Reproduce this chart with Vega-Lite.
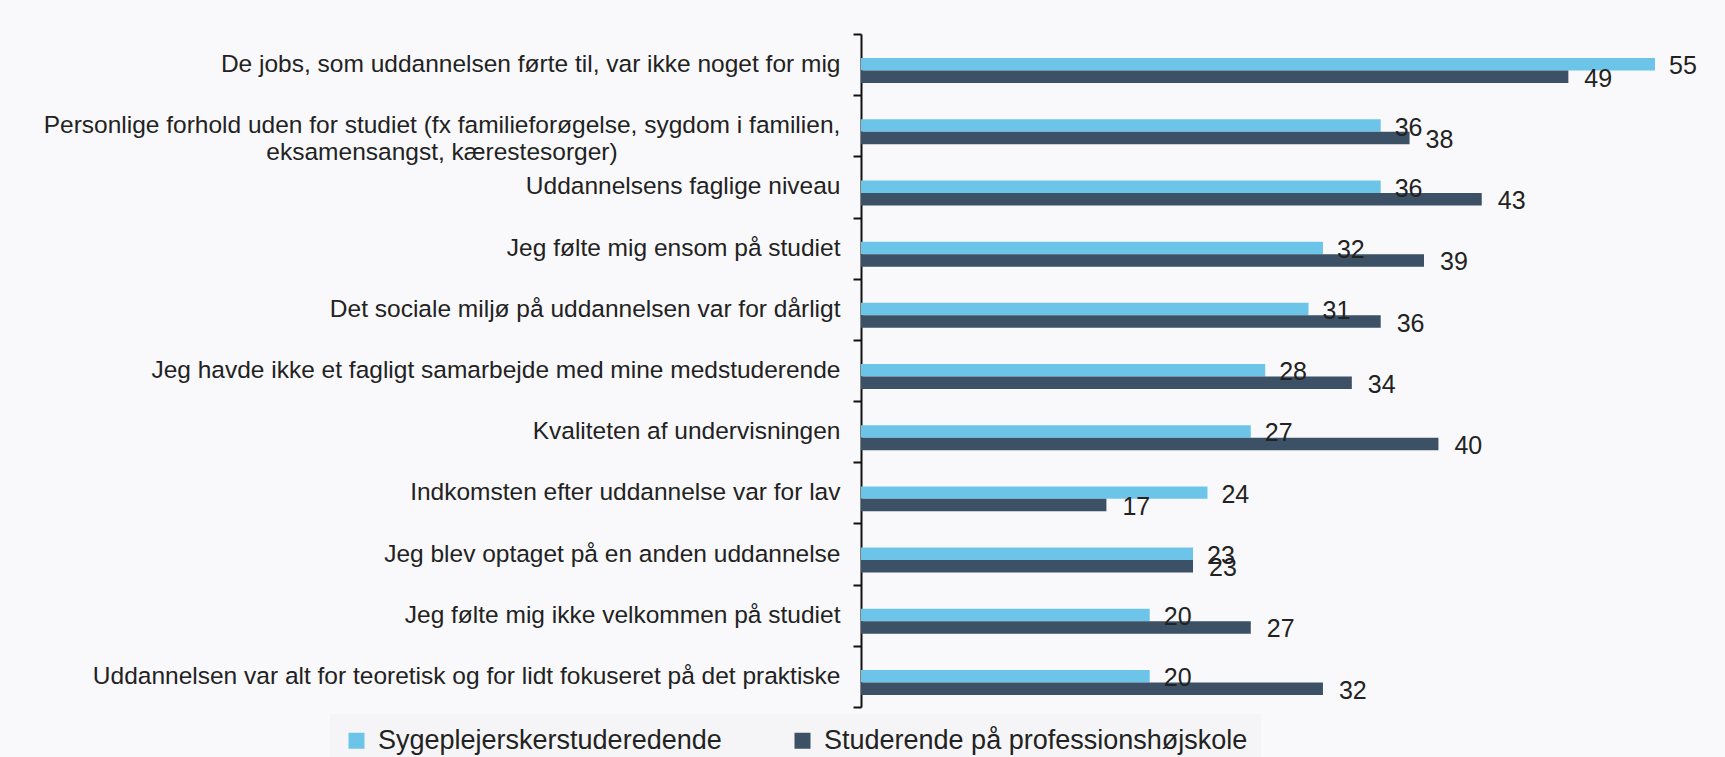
{
  "$schema": "https://vega.github.io/schema/vega-lite/v6.json",
  "autosize": {"type": "none"},
  "padding": {"left": 861, "top": 34, "right": 0, "bottom": 50},
  "width": 864,
  "height": 673,
  "background": "#f9f9fb",
  "config": {"view": {"stroke": null}, "font": "Liberation Sans"},
  "data": {
    "values": [
      {"kategori": "De jobs, som uddannelsen førte til, var ikke noget for mig", "gruppe": "Sygeplejerskerstuderedende", "pct": 55},
      {"kategori": "De jobs, som uddannelsen førte til, var ikke noget for mig", "gruppe": "Studerende på professionshøjskole", "pct": 49},
      {"kategori": "Personlige forhold uden for studiet (fx familieforøgelse, sygdom i familien, eksamensangst, kærestesorger)", "gruppe": "Sygeplejerskerstuderedende", "pct": 36},
      {"kategori": "Personlige forhold uden for studiet (fx familieforøgelse, sygdom i familien, eksamensangst, kærestesorger)", "gruppe": "Studerende på professionshøjskole", "pct": 38},
      {"kategori": "Uddannelsens faglige niveau", "gruppe": "Sygeplejerskerstuderedende", "pct": 36},
      {"kategori": "Uddannelsens faglige niveau", "gruppe": "Studerende på professionshøjskole", "pct": 43},
      {"kategori": "Jeg følte mig ensom på studiet", "gruppe": "Sygeplejerskerstuderedende", "pct": 32},
      {"kategori": "Jeg følte mig ensom på studiet", "gruppe": "Studerende på professionshøjskole", "pct": 39},
      {"kategori": "Det sociale miljø på uddannelsen var for dårligt", "gruppe": "Sygeplejerskerstuderedende", "pct": 31},
      {"kategori": "Det sociale miljø på uddannelsen var for dårligt", "gruppe": "Studerende på professionshøjskole", "pct": 36},
      {"kategori": "Jeg havde ikke et fagligt samarbejde med mine medstuderende", "gruppe": "Sygeplejerskerstuderedende", "pct": 28},
      {"kategori": "Jeg havde ikke et fagligt samarbejde med mine medstuderende", "gruppe": "Studerende på professionshøjskole", "pct": 34},
      {"kategori": "Kvaliteten af undervisningen", "gruppe": "Sygeplejerskerstuderedende", "pct": 27},
      {"kategori": "Kvaliteten af undervisningen", "gruppe": "Studerende på professionshøjskole", "pct": 40},
      {"kategori": "Indkomsten efter  uddannelse var for lav", "gruppe": "Sygeplejerskerstuderedende", "pct": 24},
      {"kategori": "Indkomsten efter  uddannelse var for lav", "gruppe": "Studerende på professionshøjskole", "pct": 17},
      {"kategori": "Jeg blev optaget på en anden uddannelse", "gruppe": "Sygeplejerskerstuderedende", "pct": 23},
      {"kategori": "Jeg blev optaget på en anden uddannelse", "gruppe": "Studerende på professionshøjskole", "pct": 23},
      {"kategori": "Jeg følte mig ikke velkommen på studiet", "gruppe": "Sygeplejerskerstuderedende", "pct": 20},
      {"kategori": "Jeg følte mig ikke velkommen på studiet", "gruppe": "Studerende på professionshøjskole", "pct": 27},
      {"kategori": "Uddannelsen var alt for teoretisk og for lidt fokuseret på det praktiske", "gruppe": "Sygeplejerskerstuderedende", "pct": 20},
      {"kategori": "Uddannelsen var alt for teoretisk og for lidt fokuseret på det praktiske", "gruppe": "Studerende på professionshøjskole", "pct": 32}
    ]
  },
  "encoding": {
    "y": {
      "field": "kategori",
      "type": "nominal",
      "sort": null,
      "scale": {"paddingInner": 0, "paddingOuter": 0},
      "axis": {
        "title": null,
        "domainColor": "#111111",
        "domainWidth": 2,
        "tickColor": "#111111",
        "tickWidth": 2,
        "tickSize": 8,
        "tickBand": "extent",
        "labelFontSize": 24.5,
        "labelColor": "#222222",
        "labelPadding": 13,
        "labelLimit": 0,
        "labelExpr": "indexof(datum.label, 'Personlige') == 0 ? '' : datum.label"
      }
    },
    "x": {
      "field": "pct",
      "type": "quantitative",
      "scale": {"domain": [0, 59.85], "nice": false},
      "axis": null
    }
  },
  "layer": [
    {
      "mark": {"type": "bar"},
      "encoding": {
        "yOffset": {
          "field": "gruppe",
          "type": "nominal",
          "scale": {"domain": [" ", "Sygeplejerskerstuderedende", "Studerende på professionshøjskole"], "paddingInner": 0, "paddingOuter": 0.948, "align": 0.49}
        },
        "color": {
          "field": "gruppe",
          "type": "nominal",
          "scale": {
            "domain": ["Sygeplejerskerstuderedende", "Studerende på professionshøjskole"],
            "range": ["#6cc5e9", "#3c5165"]
          },
          "legend": {
            "orient": "none",
            "legendX": -531,
            "legendY": 680,
            "direction": "horizontal",
            "title": null,
            "symbolType": "square",
            "symbolSize": 256,
            "symbolStrokeWidth": 0,
            "labelFontSize": 27,
            "labelColor": "#222222",
            "labelOffset": 8,
            "labelLimit": 0,
            "columnPadding": 67,
            "padding": 13,
            "fillColor": "#f5f5f7"
          }
        }
      }
    },
    {
      "mark": {"type": "text", "align": "left", "baseline": "middle", "dx": 14, "dy": 2, "fontSize": 25, "color": "#222222"},
      "transform": [{"filter": "datum.gruppe == 'Sygeplejerskerstuderedende'"}],
      "encoding": {
        "yOffset": {"field": "gruppe", "type": "nominal", "scale": {"domain": [" ", "Sygeplejerskerstuderedende", "Studerende på professionshøjskole"], "paddingInner": 0, "paddingOuter": 0.948, "align": 0.49}},
        "text": {"field": "pct", "type": "quantitative"}
      }
    },
    {
      "mark": {"type": "text", "align": "left", "baseline": "middle", "dx": 16, "dy": 2, "fontSize": 25, "color": "#222222"},
      "transform": [{"filter": "datum.gruppe == 'Studerende på professionshøjskole'"}],
      "encoding": {
        "yOffset": {"field": "gruppe", "type": "nominal", "scale": {"domain": [" ", "Sygeplejerskerstuderedende", "Studerende på professionshøjskole"], "paddingInner": 0, "paddingOuter": 0.948, "align": 0.49}},
        "text": {"field": "pct", "type": "quantitative"}
      }
    },
    {
      "mark": {
        "type": "text",
        "align": "center",
        "baseline": "middle",
        "dx": -419,
        "fontSize": 24.5,
        "lineHeight": 27,
        "color": "#222222",
        "text": ["Personlige forhold uden for studiet (fx familieforøgelse, sygdom i familien,", "eksamensangst, kærestesorger)"]
      },
      "transform": [{"filter": "indexof(datum.kategori, 'Personlige') == 0 && datum.gruppe == 'Sygeplejerskerstuderedende'"}],
      "encoding": {"x": {"datum": 0}}
    }
  ]
}
